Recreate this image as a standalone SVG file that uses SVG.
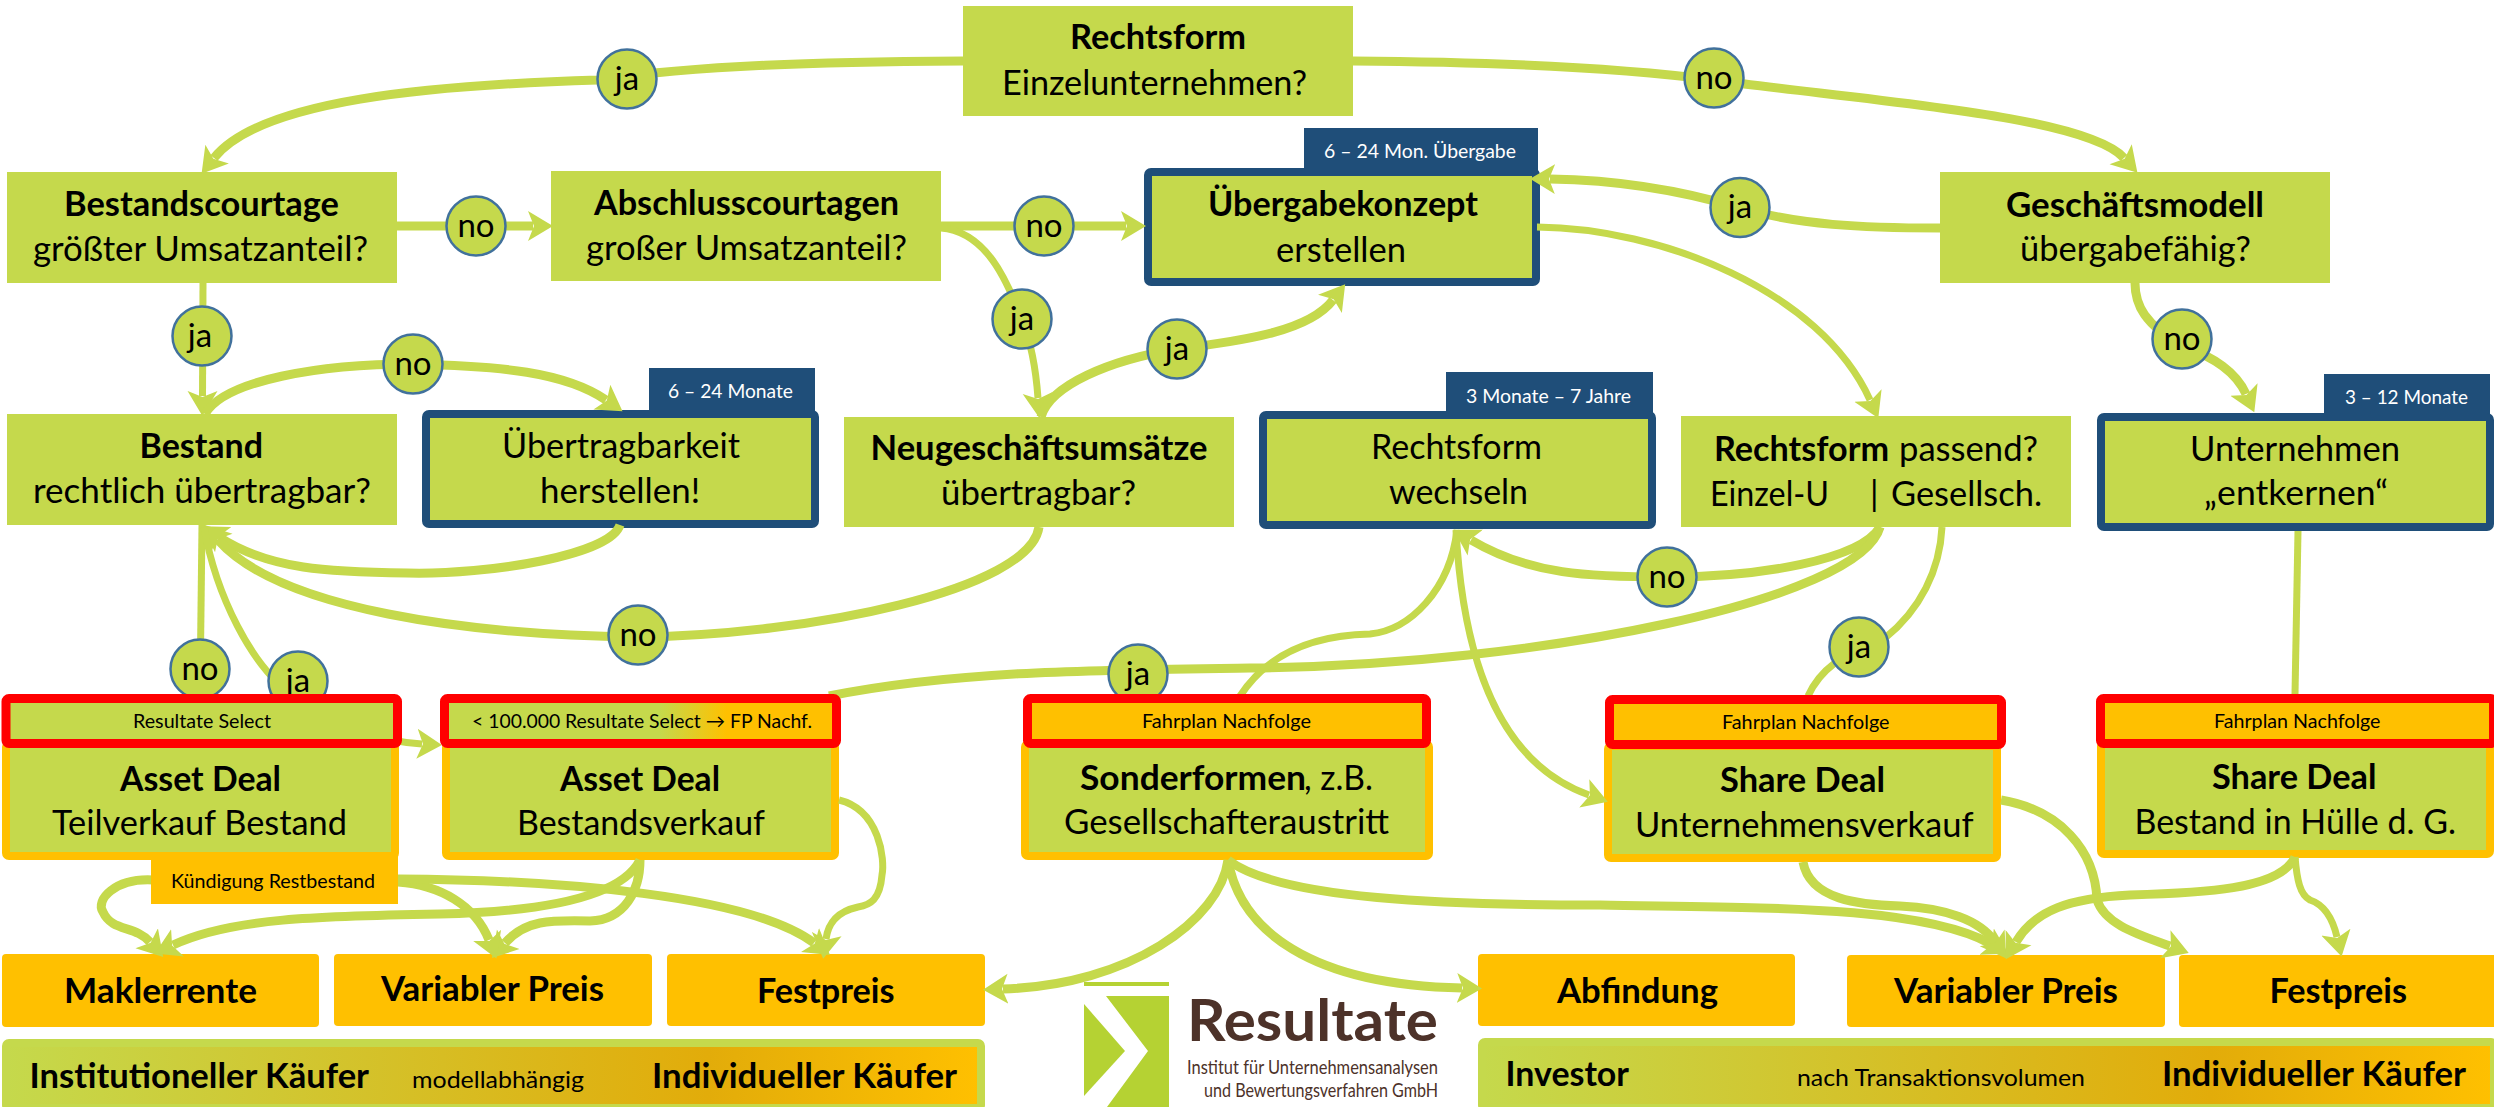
<svg xmlns="http://www.w3.org/2000/svg" width="2494" height="1107" viewBox="0 0 2494 1107">
<style>
text{font-family:"Lato","Carlito","Liberation Sans",sans-serif;fill:#000;font-size:34px}
.b{font-weight:700}
.s{font-size:19px}
.w{font-size:19px;fill:#fff}
.m{font-size:24px}
.l{font-size:33px;text-anchor:middle}
.g{fill:#C5D94C}
.o{fill:#FFC000}
.n{fill:#1F4E79}
.blue{fill:#C5D94C;stroke:#1F4E79;stroke-width:8}
.org{fill:#C5D94C;stroke:#FFC000;stroke-width:8}
.red{stroke:#FF0000;stroke-width:9}
.c{fill:none;stroke:#C5D94C;stroke-width:9}
.t{fill:none;stroke:#C5D94C;stroke-width:7}
.a{marker-end:url(#ah)}
.k{fill:#C5D94C;stroke:#41719C;stroke-width:2.5}
.bar{stroke:#C5D94C;stroke-width:8}
.lg{fill:#B5D233}
.br{fill:#4D3229}
</style>
<defs>
<marker id="ah" markerUnits="userSpaceOnUse" markerWidth="28" markerHeight="32" refX="5" refY="16" orient="auto"><path d="M0,1 L25,16 L0,31 L6,16 z" fill="#C5D94C"/></marker>
<linearGradient id="gb"><stop offset="0" stop-color="#C5D94C"/><stop offset=".72" stop-color="#E2AC0A"/><stop offset="1" stop-color="#FFC000"/></linearGradient>
<linearGradient id="gh"><stop offset=".55" stop-color="#C5D94C"/><stop offset=".72" stop-color="#FFC000"/></linearGradient>
</defs>

<g id="n-rechtsform"><rect class="g" x="963" y="6" width="390" height="110"/><text class="b" x="1070" y="49" textLength="176" lengthAdjust="spacingAndGlyphs">Rechtsform</text><text x="1002" y="95" textLength="305" lengthAdjust="spacingAndGlyphs">Einzelunternehmen?</text></g>
<g id="n-bestandscourtage"><rect class="g" x="7" y="172" width="390" height="111"/><text class="b" x="64" y="216" textLength="275" lengthAdjust="spacingAndGlyphs">Bestandscourtage</text><text x="33" y="261" textLength="335" lengthAdjust="spacingAndGlyphs">größter Umsatzanteil?</text></g>
<g id="n-abschlusscourtagen"><rect class="g" x="551" y="171" width="390" height="110"/><text class="b" x="594" y="215" textLength="305" lengthAdjust="spacingAndGlyphs">Abschlusscourtagen</text><text x="586" y="260" textLength="321" lengthAdjust="spacingAndGlyphs">großer Umsatzanteil?</text></g>
<g id="n-uebergabekonzept"><rect class="n" x="1304" y="128" width="234" height="46"/><rect class="blue" x="1148" y="172" width="388" height="110" rx="3"/><text class="w" x="1324" y="158" textLength="192" lengthAdjust="spacingAndGlyphs">6 – 24 Mon. Übergabe</text><text class="b" x="1208" y="216" textLength="270" lengthAdjust="spacingAndGlyphs">Übergabekonzept</text><text x="1276" y="262" textLength="130" lengthAdjust="spacingAndGlyphs">erstellen</text></g>
<g id="n-geschaeftsmodell"><rect class="g" x="1940" y="172" width="390" height="111"/><text class="b" x="2006" y="217" textLength="258" lengthAdjust="spacingAndGlyphs">Geschäftsmodell</text><text x="2020" y="261" textLength="231" lengthAdjust="spacingAndGlyphs">übergabefähig?</text></g>
<g id="n-bestand"><rect class="g" x="7" y="414" width="390" height="111"/><text class="b" x="139.5" y="458" textLength="123.5" lengthAdjust="spacingAndGlyphs">Bestand</text><text x="33" y="503" textLength="338" lengthAdjust="spacingAndGlyphs">rechtlich übertragbar?</text></g>
<g id="n-uebertragbarkeit"><rect class="n" x="649" y="368" width="166" height="48"/><rect class="blue" x="426" y="414" width="389" height="110" rx="3"/><text class="w" x="668" y="398" textLength="125" lengthAdjust="spacingAndGlyphs">6 – 24 Monate</text><text x="502" y="458" textLength="238" lengthAdjust="spacingAndGlyphs">Übertragbarkeit</text><text x="540" y="503" textLength="160" lengthAdjust="spacingAndGlyphs">herstellen!</text></g>
<g id="n-neugeschaeft"><rect class="g" x="844" y="417" width="390" height="110"/><text class="b" x="870.5" y="460" textLength="337" lengthAdjust="spacingAndGlyphs">Neugeschäftsumsätze</text><text x="941" y="505" textLength="195" lengthAdjust="spacingAndGlyphs">übertragbar?</text></g>
<g id="n-rechtsform-wechseln"><rect class="n" x="1446" y="372" width="207" height="46"/><rect class="blue" x="1263" y="415" width="389" height="110" rx="3"/><text class="w" x="1466" y="402.5" textLength="165" lengthAdjust="spacingAndGlyphs">3 Monate – 7 Jahre</text><text x="1371" y="459" textLength="171" lengthAdjust="spacingAndGlyphs">Rechtsform</text><text x="1389" y="504" textLength="139" lengthAdjust="spacingAndGlyphs">wechseln</text></g>
<g id="n-rechtsform-passend"><rect class="g" x="1681" y="416" width="390" height="111"/><text y="461"><tspan class="b" x="1714" textLength="175" lengthAdjust="spacingAndGlyphs">Rechtsform</tspan> <tspan x="1899" textLength="139" lengthAdjust="spacingAndGlyphs">passend?</tspan></text><text y="506"><tspan x="1710" textLength="119" lengthAdjust="spacingAndGlyphs">Einzel-U</tspan> <tspan x="1870">|</tspan> <tspan x="1891" textLength="151" lengthAdjust="spacingAndGlyphs">Gesellsch.</tspan></text></g>
<g id="n-unternehmen"><rect class="n" x="2324" y="374" width="166" height="46"/><rect class="blue" x="2101" y="417" width="389" height="110" rx="3"/><text class="w" x="2345" y="404" textLength="123" lengthAdjust="spacingAndGlyphs">3 – 12 Monate</text><text x="2190" y="461" textLength="210" lengthAdjust="spacingAndGlyphs">Unternehmen</text><text x="2204" y="505" textLength="184" lengthAdjust="spacingAndGlyphs">„entkernen“</text></g>

<g id="n-asset-teil"><rect class="org" x="6" y="744" width="389" height="112" rx="3"/><text class="b" x="120" y="790.5" textLength="161" lengthAdjust="spacingAndGlyphs">Asset Deal</text><text x="52" y="835" textLength="295" lengthAdjust="spacingAndGlyphs">Teilverkauf Bestand</text></g>
<g id="n-asset-bestand"><rect class="org" x="446" y="744" width="389" height="112" rx="3"/><text class="b" x="560" y="790.5" textLength="160" lengthAdjust="spacingAndGlyphs">Asset Deal</text><text x="517" y="835" textLength="248" lengthAdjust="spacingAndGlyphs">Bestandsverkauf</text></g>
<g id="n-sonderformen"><rect class="org" x="1025" y="744" width="404" height="112" rx="3"/><text y="790"><tspan class="b" x="1080" textLength="226" lengthAdjust="spacingAndGlyphs">Sonderformen</tspan><tspan x="1304" textLength="69" lengthAdjust="spacingAndGlyphs">, z.B.</tspan></text><text x="1064" y="834" textLength="325" lengthAdjust="spacingAndGlyphs">Gesellschafteraustritt</text></g>
<g id="n-share-unternehmen"><rect class="org" x="1608" y="746" width="389" height="112" rx="3"/><text class="b" x="1720" y="792" textLength="165" lengthAdjust="spacingAndGlyphs">Share Deal</text><text x="1635" y="837" textLength="338.5" lengthAdjust="spacingAndGlyphs">Unternehmensverkauf</text></g>
<g id="n-share-bestand"><rect class="org" x="2101" y="743" width="389" height="111" rx="3"/><text class="b" x="2212" y="789" textLength="164.5" lengthAdjust="spacingAndGlyphs">Share Deal</text><text x="2134.5" y="833.5" textLength="321.5" lengthAdjust="spacingAndGlyphs">Bestand in Hülle d. G.</text></g>

<g id="n-maklerrente"><rect class="o" x="2" y="954" width="317" height="73" rx="4"/><text class="b" x="64" y="1003" textLength="193" lengthAdjust="spacingAndGlyphs">Maklerrente</text></g>
<g id="n-variabel-1"><rect class="o" x="334" y="954" width="318" height="72" rx="4"/><text class="b" x="381" y="1001" textLength="223" lengthAdjust="spacingAndGlyphs">Variabler Preis</text></g>
<g id="n-festpreis-1"><rect class="o" x="667" y="954" width="318" height="72" rx="4"/><text class="b" x="757" y="1003" textLength="137.5" lengthAdjust="spacingAndGlyphs">Festpreis</text></g>
<g id="n-abfindung"><rect class="o" x="1478" y="954" width="317" height="72" rx="4"/><text class="b" x="1557" y="1003" textLength="161" lengthAdjust="spacingAndGlyphs">Abfindung</text></g>
<g id="n-variabel-2"><rect class="o" x="1847" y="955" width="318" height="72" rx="4"/><text class="b" x="1894" y="1003" textLength="224" lengthAdjust="spacingAndGlyphs">Variabler Preis</text></g>
<g id="n-festpreis-2"><rect class="o" x="2179" y="955" width="320" height="72" rx="4"/><text class="b" x="2269.5" y="1003" textLength="137.5" lengthAdjust="spacingAndGlyphs">Festpreis</text></g>

<g id="n-bar-links"><rect class="bar" x="6" y="1043" width="975" height="65" rx="3" fill="url(#gb)"/><text class="b" x="29.5" y="1087.5" textLength="339.5" lengthAdjust="spacingAndGlyphs">Institutioneller Käufer</text><text class="m" x="412" y="1088" textLength="172" lengthAdjust="spacingAndGlyphs">modellabhängig</text><text class="b" x="652" y="1087.5" textLength="305" lengthAdjust="spacingAndGlyphs">Individueller Käufer</text></g>
<g id="n-bar-rechts"><rect class="bar" x="1482" y="1042" width="1012" height="66" rx="3" fill="url(#gb)"/><text class="b" x="1505.5" y="1085.7" textLength="123.5" lengthAdjust="spacingAndGlyphs">Investor</text><text class="m" x="1797" y="1086" textLength="288" lengthAdjust="spacingAndGlyphs">nach Transaktionsvolumen</text><text class="b" x="2162" y="1085.7" textLength="304" lengthAdjust="spacingAndGlyphs">Individueller Käufer</text></g>

<g id="n-logo"><rect class="lg" x="1084" y="982" width="85" height="4"/><path class="lg" d="M1084,1004 L1125,1051 L1084,1096 z"/><path class="lg" d="M1106,996 L1169,996 L1169,1107 L1107,1107 L1148,1051 z"/><text class="br" x="1187" y="1041" style="font-size:58px;font-weight:700" textLength="251" lengthAdjust="spacingAndGlyphs">Resultate</text><text class="br" x="1187" y="1074" style="font-size:20px" textLength="251" lengthAdjust="spacingAndGlyphs">Institut für Unternehmensanalysen</text><text class="br" x="1204" y="1096.7" style="font-size:20px" textLength="234" lengthAdjust="spacingAndGlyphs">und Bewertungsverfahren GmbH</text></g>

<g id="connectors">
<path class="c a" d="M963,61 C820,62 700,65 598,80 C430,85 260,100 214,158"/>
<path class="c a" d="M1353,61 C1500,62 1620,68 1714,80 C1860,100 2085,115 2124,158"/>
<path class="c a" d="M397,226 L533,226"/>
<path class="c a" d="M941,226 L1126,226"/>
<path class="t a" d="M941,228 C990,232 1010,290 1022,319 C1032,345 1036,370 1038,398"/>
<path class="c a" d="M1041,417 C1050,385 1110,360 1177,349 C1250,340 1310,330 1333,300"/>
<path class="c a" d="M1940,228 C1860,228 1800,225 1740,208 C1680,190 1620,180 1550,179"/>
<path class="t a" d="M1537,227 C1660,228 1820,290 1870,400"/>
<path class="c a" d="M2135,283 C2135,305 2145,325 2182,345 C2215,358 2236,372 2246,394"/>
<path class="t a" d="M203,283 L202.5,396"/>
<path class="c a" d="M205,414 C225,380 320,364 413,364 C500,366 565,372 606,400"/>
<path class="c a" d="M620,525 C610,555 490,575 407,573 C330,572 270,570 219,537"/>
<path class="c a" d="M1039,527 C1030,590 810,635 638,637 C470,635 280,610 218,540"/>
<path class="t" d="M202,525 L200,694"/>
<path class="t a" d="M204,527 C215,590 250,670 300,700 C340,725 380,742 422,744"/>
<path class="c a" d="M1880,527 C1860,560 1760,577 1667,577 C1590,577 1530,575 1471,540"/>
<path class="c" d="M1880,527 C1860,600 1540,665 1250,668 C1100,670 960,670 829,696"/>
<path class="t" d="M1240,696 C1270,650 1320,635 1370,634 C1410,630 1450,590 1457,530"/>
<path class="t a" d="M1456,530 C1462,640 1490,760 1589,795"/>
<path class="t" d="M1942,527 C1940,570 1920,610 1885,638 C1840,655 1820,670 1808,696"/>
<path class="t" d="M2298,531 L2295,694"/>
<path class="c a" d="M153,880 C115,878 95,900 103,912 C112,932 135,925 150,942"/>
<path class="c a" d="M640,860 C620,900 530,912 440,914 C320,916 230,918 173,945"/>
<path class="c a" d="M640,860 C640,890 625,920 590,921 C550,920 525,920 505,943"/>
<path class="c a" d="M398,882 C440,885 475,905 489,940"/>
<path class="c a" d="M398,879 C560,880 750,895 814,943"/>
<path class="t a" d="M839,800 C880,810 885,860 882,875 C880,900 870,905 858,907 C835,912 828,925 826,939"/>
<path class="c a" d="M1228,860 C1220,920 1130,985 1003,989"/>
<path class="c a" d="M1228,860 C1240,930 1310,985 1462,988"/>
<path class="c a" d="M1228,860 C1280,900 1450,905 1600,905 C1760,908 1920,905 1991,944"/>
<path class="c a" d="M1803,862 C1810,900 1860,905 1900,906 C1945,908 1980,920 1995,942"/>
<path class="c a" d="M2001,800 C2060,810 2095,850 2097,900 C2105,925 2140,935 2170,946"/>
<path class="c a" d="M2295,857 C2280,890 2200,893 2130,895 C2070,898 2035,910 2016,942"/>
<path class="t a" d="M2295,857 C2297,880 2300,895 2310,900 C2325,905 2333,920 2337,937"/>

<g id="labels">
<g><circle class="k" cx="627" cy="79" r="29.5"/><text class="l" x="627" y="90">ja</text></g>
<g><circle class="k" cx="1714" cy="78" r="29.5"/><text class="l" x="1714" y="89">no</text></g>
<g><circle class="k" cx="476" cy="226" r="29.5"/><text class="l" x="476" y="237">no</text></g>
<g><circle class="k" cx="1044" cy="226" r="29.5"/><text class="l" x="1044" y="237">no</text></g>
<g><circle class="k" cx="1740" cy="207.5" r="29.5"/><text class="l" x="1740" y="218">ja</text></g>
<g><circle class="k" cx="202" cy="336" r="29.5"/><text class="l" x="200" y="347">ja</text></g>
<g><circle class="k" cx="413" cy="364" r="29.5"/><text class="l" x="413" y="375">no</text></g>
<g><circle class="k" cx="1022" cy="319" r="29.5"/><text class="l" x="1022" y="330">ja</text></g>
<g><circle class="k" cx="1177" cy="349" r="29.5"/><text class="l" x="1177" y="360">ja</text></g>
<g><circle class="k" cx="2182" cy="339" r="29.5"/><text class="l" x="2182" y="350">no</text></g>
<g><circle class="k" cx="638" cy="635" r="29.5"/><text class="l" x="638" y="646">no</text></g>
<g><circle class="k" cx="200" cy="669" r="29.5"/><text class="l" x="200" y="680">no</text></g>
<g><circle class="k" cx="298" cy="681" r="29.5"/><text class="l" x="298" y="692">ja</text></g>
<g><circle class="k" cx="1138" cy="674" r="29.5"/><text class="l" x="1138" y="685">ja</text></g>
<g><circle class="k" cx="1667" cy="577" r="29.5"/><text class="l" x="1667" y="588">no</text></g>
<g><circle class="k" cx="1859" cy="647" r="29.5"/><text class="l" x="1859" y="658">ja</text></g>
</g>
</g>

<g id="n-tab-select"><rect class="g red" x="6" y="698.5" width="391.5" height="45" rx="3"/><text class="s" x="133" y="727.6" textLength="138" lengthAdjust="spacingAndGlyphs">Resultate Select</text></g>
<g id="n-tab-100000"><rect class="red" fill="url(#gh)" x="444.5" y="698.5" width="392" height="45" rx="3"/><text class="s" x="472" y="727.6" textLength="340" lengthAdjust="spacingAndGlyphs">&lt; 100.000 Resultate Select → FP Nachf.</text></g>
<g id="n-tab-fahrplan-1"><rect class="o red" x="1027.5" y="698.5" width="399" height="45" rx="3"/><text class="s" x="1142" y="727.6" textLength="169" lengthAdjust="spacingAndGlyphs">Fahrplan Nachfolge</text></g>
<g id="n-tab-fahrplan-2"><rect class="o red" x="1609.5" y="699.5" width="392" height="45" rx="3"/><text class="s" x="1722" y="729" textLength="167.5" lengthAdjust="spacingAndGlyphs">Fahrplan Nachfolge</text></g>
<g id="n-tab-fahrplan-3"><rect class="o red" x="2100.5" y="698.5" width="393" height="45" rx="3"/><text class="s" x="2214" y="727.6" textLength="166.5" lengthAdjust="spacingAndGlyphs">Fahrplan Nachfolge</text></g>
<g id="n-kuendigung"><rect class="o" x="151" y="852" width="247" height="52"/><text class="s" x="171" y="887.5" textLength="204" lengthAdjust="spacingAndGlyphs">Kündigung Restbestand</text></g>
</svg>
